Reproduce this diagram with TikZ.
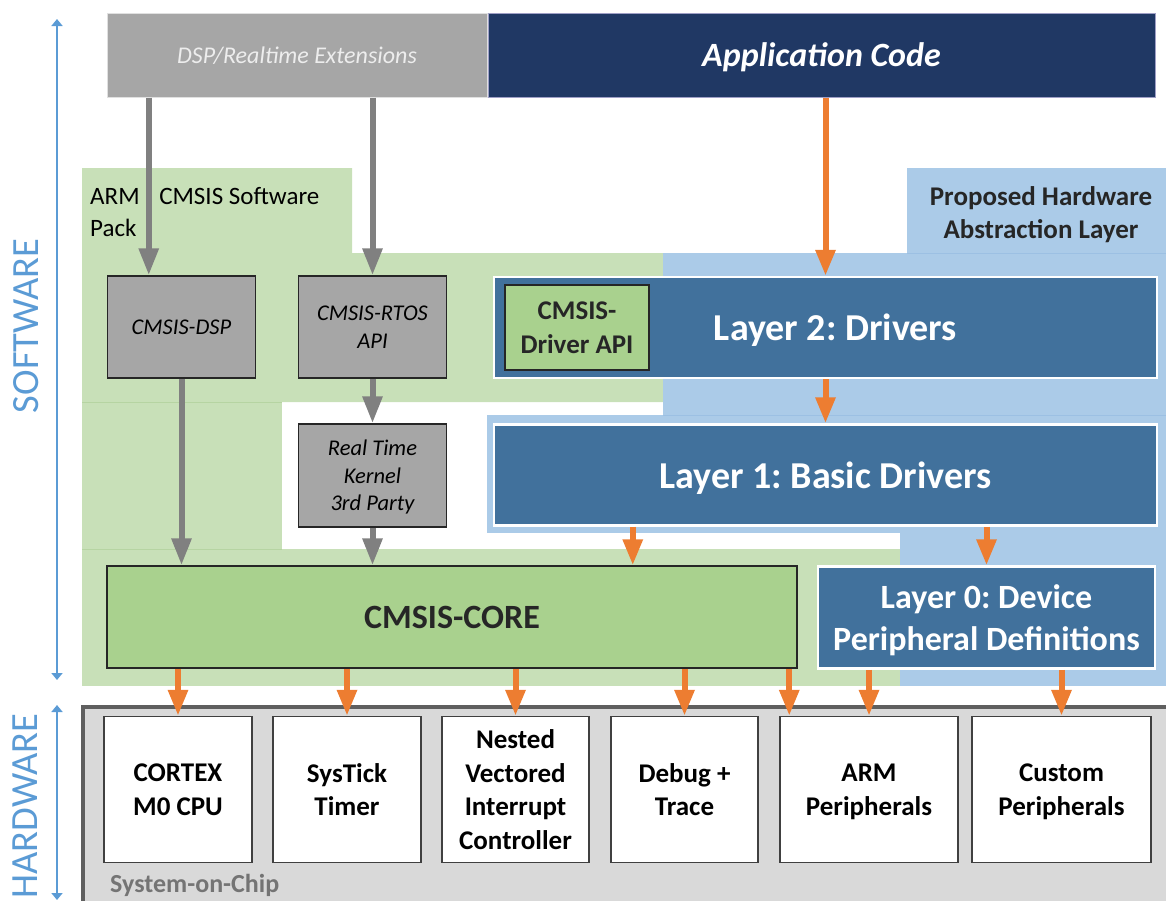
\documentclass[tikz,border=0pt]{standalone}
\usepackage{fontspec}
\setmainfont{Carlito}
\usepackage{xcolor}
\usepackage{tikz}
\usetikzlibrary{arrows.meta,calc}

\definecolor{extgray}{HTML}{A6A6A6}
\definecolor{exttext}{HTML}{EDEDED}
\definecolor{appnavy}{HTML}{203864}
\definecolor{packgreen}{HTML}{C8E0B8}
\definecolor{packline}{HTML}{B6D4A2}
\definecolor{coregreen}{HTML}{A9D18E}
\definecolor{halblue}{HTML}{ABCBE8}
\definecolor{halline}{HTML}{9CC0E3}
\definecolor{layerblue}{HTML}{41719C}
\definecolor{arrorange}{HTML}{ED7D31}
\definecolor{arrgray}{HTML}{808080}
\definecolor{axisblue}{HTML}{5B9BD5}
\definecolor{socgray}{HTML}{D9D9D9}
\definecolor{socedge}{HTML}{5F5F5F}
\definecolor{soctext}{HTML}{747474}
\definecolor{darktext}{HTML}{262626}

\newcommand{\fsz}[2]{\fontsize{#1}{#2}\selectfont}
% last line without depth, so that descenders do not lift the text
\newcommand{\nodp}[1]{\raisebox{0pt}[\height][0pt]{#1}}

\tikzset{
  grayarr/.style={draw=arrgray,line width=6pt,-{Triangle[width=19pt,length=27pt]}},
  orangearr/.style={draw=arrorange,line width=6pt,-{Triangle[width=19pt,length=26pt]}},
  axisarr/.style={draw=axisblue,line width=2pt,{Triangle[width=11pt,length=7pt]}-{Triangle[width=11pt,length=7pt]}},
  swbox/.style={draw=black!85,line width=1.5pt,fill=extgray,minimum width=148pt,inner sep=0pt,
    align=center,text=black,font=\fsz{22.5}{27.5}\itshape},
  layerbox/.style={draw=white,line width=2.5pt,fill=layerblue,text=white,inner sep=0pt,align=center},
  hwbox/.style={draw=black!75,line width=1.5pt,fill=white,minimum height=146pt,inner sep=0pt,
    align=center,font=\fsz{27}{33.5}\bfseries},
}

\begin{document}
\frenchspacing
\begin{tikzpicture}[x=1pt,y=-1pt]
\useasboundingbox (0,0) rectangle (1166,900);

% software pack and HAL areas
\fill[packgreen] (82,168) -- (352,168) -- (352,253) -- (663,253) -- (663,402) -- (82,402) -- cycle;
\fill[packgreen] (82,402) rectangle (282,549);
\fill[packgreen] (82,549) rectangle (900,686);
\draw[packline] (82,402) -- (282,402) (82,549) -- (282,549);
\fill[halblue] (907,168) rectangle (1166,253);
\fill[halblue] (663,253) rectangle (1166,415);
\fill[halblue] (487,415) rectangle (1166,533);
\fill[halblue] (900,533) rectangle (1166,686);
\draw[halline] (907,253) -- (1166,253) (663,415) -- (1166,415);

% system on chip
\draw[socedge,line width=4pt,fill=socgray] (83,707) rectangle (1190,940);
\node[anchor=base west,inner sep=0pt,font=\fsz{26}{30}\bfseries,text=soctext] (soclbl) at (110,892) {System-on-Chip};

% top row
\node[draw=black!12,line width=1pt,fill=extgray,minimum width=380pt,minimum height=84pt,inner sep=0pt,
  text depth=0pt,text=exttext,font=\fsz{24}{28}\itshape] (ext) at (297,55) {DSP/Realtime Extensions};
\node[draw=blue!25!gray!60,line width=1pt,fill=appnavy,minimum width=667pt,minimum height=84pt,inner sep=0pt,
  text depth=0pt,text=white,font=\fsz{34}{40}\bfseries\itshape] (app) at (821.5,55) {Application Code};

% area labels
\node[anchor=north west,inner sep=0pt,align=left,font=\fsz{25}{32}] (packlbl) at (90,187)
  {ARM\hspace{14pt} CMSIS Software\\Pack};
\node[inner sep=0pt,align=center,font=\fsz{27}{33}\bfseries,text=darktext] (hallbl) at (1041,213)
  {Proposed Hardware\\\nodp{Abstraction Layer}};

% software blocks
\node[swbox,minimum height=102pt,text depth=0pt] (dsp) at (181.5,327) {CMSIS-DSP};
\node[swbox,minimum height=102pt] (rtos) at (372.5,327) {CMSIS-RTOS\\API};
\node[swbox,minimum height=103pt] (kernel) at (372.5,475.5) {Real Time\\Kernel\\\nodp{3rd Party}};
\node[draw=darktext,line width=1.5pt,fill=coregreen,minimum width=690pt,minimum height=102pt,inner sep=0pt,
  text depth=0pt,text=darktext,font=\fsz{34}{40}\bfseries] (core) at (452,617) {CMSIS-CORE};

% HAL layers
\node[layerbox,minimum width=663pt,minimum height=101pt,text depth=0pt,font=\fsz{38}{44}\bfseries] (l2)
  at (825.5,327.5) {\hspace*{20pt}Layer 2: Drivers};
\node[draw=darktext,line width=1.5pt,fill=coregreen,minimum width=144pt,minimum height=85pt,inner sep=0pt,
  align=center,text=darktext,font=\fsz{27}{34}\bfseries] (drvapi) at (577,327.5) {CMSIS-\\Driver API};
\node[layerbox,minimum width=663pt,minimum height=101pt,text depth=0pt,font=\fsz{38}{44}\bfseries] (l1)
  at (825.5,475) {Layer 1: Basic Drivers};
\node[layerbox,minimum width=337pt,minimum height=102pt,font=\fsz{34}{42}\bfseries] (l0) at (986.5,617.5)
  {Layer 0: Device\\\nodp{Peripheral Definitions}};

% hardware blocks
\foreach \n/\x/\w/\t in {cpu/178/148/{CORTEX\\M0 CPU},tick/347/148/{SysTick\\Timer},
    nvic/515.5/147/{Nested\\Vectored\\Interrupt\\Controller},dbg/684.5/147/{Debug +\\Trace},
    armp/869/178/{ARM\\\nodp{Peripherals}},cusp/1061.5/179/{Custom\\\nodp{Peripherals}}}
  \node[hwbox,minimum width=\w pt] (\n) at (\x,789.5) {\t};

% axes
\coordinate (swtop) at (57,19);
\coordinate (swbot) at (57,680);
\draw[axisarr] (swtop) -- (swbot);
\node[rotate=90,inner sep=0pt,font=\fsz{38.5}{40},text=axisblue] (swlbl) at (26,326) {SOFTWARE};
\coordinate (hwtop) at (57,705);
\coordinate (hwbot) at (57,900);
\draw[axisarr] (hwtop) -- (hwbot);
\node[rotate=90,inner sep=0pt,font=\fsz{38.5}{40},text=axisblue] (hwlbl) at (25,806) {HARDWARE};

% gray flow
\coordinate (dspin) at ([xshift=42pt]dsp.north west);
\draw[grayarr] (ext.south -| dspin) -- (dspin);
\draw[grayarr] (ext.south -| rtos.north) -- (rtos.north);
\draw[grayarr] (dsp.south) -- (dsp.south |- core.north);
\draw[grayarr] (rtos.south) -- (kernel.north);
\draw[grayarr] (kernel.south) -- (kernel.south |- core.north);

% orange flow
\draw[orangearr] (app.south -| l2.north) -- (l2.north);
\draw[orangearr] (l2.south) -- (l1.north);
\coordinate (l1core) at ([xshift=140pt]l1.south west);
\draw[orangearr] (l1core) -- (l1core |- core.north);
\draw[orangearr] (l1.south -| l0.north) -- (l0.north);
\foreach \n in {cpu,tick,nvic,dbg}
  \draw[orangearr] (core.south -| \n.north) -- (\n.north);
\coordinate (corearm) at ([xshift=10pt]armp.north west);
\draw[orangearr] (core.south -| corearm) -- (corearm);
\draw[orangearr] (l0.south -| armp.north) -- (armp.north);
\draw[orangearr] (l0.south -| cusp.north) -- (cusp.north);
\end{tikzpicture}
\end{document}
